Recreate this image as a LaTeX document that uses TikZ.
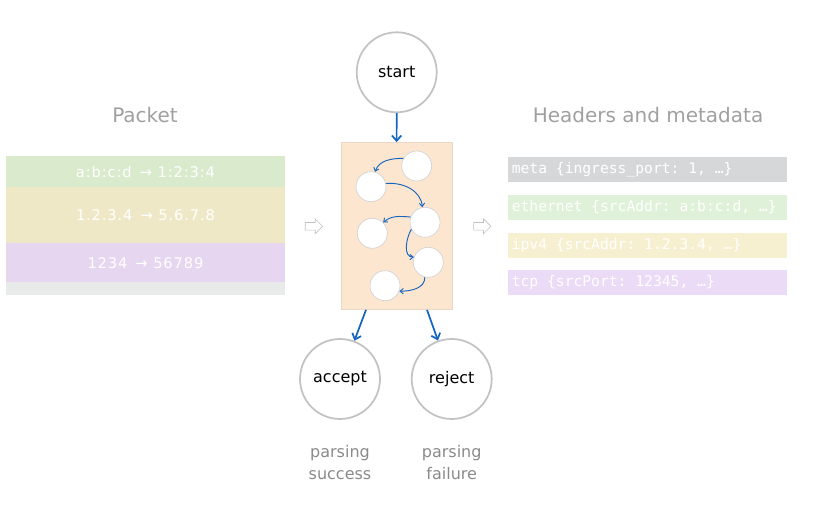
\documentclass[tikz,border=0pt]{standalone}
\usepackage{fontspec}
\setmainfont{DejaVu Sans}
\setsansfont{DejaVu Sans}
\setmonofont{DejaVu Sans Mono}
\newfontfamily\bandfont[LetterSpace=6]{DejaVu Sans}
\usetikzlibrary{positioning,shapes.arrows,arrows.meta}

\definecolor{stategray}{HTML}{C2C2C2}
\definecolor{subgray}{HTML}{D2D2D2}
\definecolor{titlegray}{HTML}{A0A0A0}
\definecolor{notegray}{HTML}{8A8A8A}
\definecolor{flowblue}{HTML}{1565C0}
\definecolor{boxfill}{HTML}{FDE6CF}
\definecolor{boxedge}{HTML}{EAD8C6}
\definecolor{pktgreen}{HTML}{D9EACD}
\definecolor{pktyellow}{HTML}{EFE8C6}
\definecolor{pktpurple}{HTML}{E6D6F0}
\definecolor{pktgray}{HTML}{E9EAEA}
\definecolor{hdrgray}{HTML}{D6D7D8}
\definecolor{hdrgreen}{HTML}{DFF1D8}
\definecolor{hdryellow}{HTML}{F6F0D0}
\definecolor{hdrpurple}{HTML}{EBDBF6}

\newcommand\codegap{\phantom{x}}

\tikzset{
  state/.style={draw=stategray, line width=1.3pt, circle, minimum size=60pt, inner sep=0pt, font=\fontsize{12}{14}\selectfont},
  sub/.style={draw=subgray, line width=0.5pt, fill=white, circle, minimum size=22.5pt, inner sep=0pt},
  band/.style={rectangle, minimum width=209.25pt, inner sep=0pt, outer sep=0pt, text=white, font=\bandfont\fontsize{11}{13}\selectfont},
  field/.style={rectangle, text width=204pt, inner xsep=2.6pt, inner ysep=0pt, outer sep=0pt, minimum height=18.75pt, align=left, text=white, font=\ttfamily\fontsize{11}{13}\selectfont},
  title/.style={text=titlegray, font=\fontsize{15}{18}\selectfont},
  note/.style={text=notegray, align=center, font=\fontsize{12}{16.5}\selectfont},
  flow/.style={draw=flowblue, line width=1.3pt, -{Straight Barb[length=4pt,width=7pt]}},
  hop/.style={draw=flowblue, line width=0.7pt, -{Straight Barb[length=2.5pt,width=4pt]}},
  hollow/.style={single arrow, draw=stategray, line width=0.5pt, minimum height=13pt, inner sep=2.6pt, single arrow head extend=2.7pt},
}

\begin{document}
\begin{tikzpicture}[x=0.75pt, y=0.75pt]
\useasboundingbox (0,0) rectangle (827,-509);

\node[title] (packet) at (145,-115) {Packet};
\node[band, fill=pktgreen, minimum height=23.25pt, anchor=north west] (eth) at (6,-156.5) {a:b:c:d \,→ 1:2:3:4};
\node[band, fill=pktyellow, minimum height=41.7pt, below=0pt of eth] (ip) {1.2.3.4 \,→ 5.6.7.8};
\node[band, fill=pktpurple, minimum height=29.55pt, below=0pt of ip] (tcp) {1234 \,→ 56789};
\node[band, fill=pktgray, minimum height=9.75pt, below=0pt of tcp] (payload) {};

\node[hollow] (inarrow)  at (312,-226.3) {};
\node[hollow] (outarrow) at (480.4,-226.3) {};

\node[state] (start) at (396.7,-72.3) {start};
\node[draw=boxedge, fill=boxfill, line width=0.5pt, minimum width=83.25pt, minimum height=125.25pt, inner sep=0pt] (parser) at (396.5,-226) {};

\node[sub] (s1) at (416.7,-166)   {};
\node[sub] (s2) at (371,-186.7)   {};
\node[sub] (s3) at (425,-222.3)   {};
\node[sub] (s4) at (372.3,-233.3) {};
\node[sub] (s5) at (428.3,-262.3) {};
\node[sub] (s6) at (385,-285.7)   {};

\draw[hop] (s1.150) to[out=180, in=70]  (s2.75);
\draw[hop] (s2.12)  to[out=5,   in=95]  (s3.100);
\draw[hop] (s3.160) to[out=175, in=40]  (s4.45);
\draw[hop] (s3.207) to[out=240, in=180] (s5.160);
\draw[hop] (s5.257) to[out=270, in=0]   (s6.339);

\node[state] (accept) at (340,-379)   {accept};
\node[state] (reject) at (451.7,-379) {reject};

\draw[flow] (start) -- (parser);
\draw[flow] (parser.-110.6) -- (accept);
\draw[flow] (parser.-70.2) -- (reject);

\node[note] (success) at (340,-463)   {parsing\\success};
\node[note] (failure) at (451.7,-463) {parsing\\failure};

\node[title] (headers) at (648,-115) {Headers and metadata};
\node[field, fill=hdrgray, anchor=north west] (meta) at (508.3,-157.3) {meta\codegap\{ingress\_port:\codegap1,\codegap…\}};
\node[field, fill=hdrgreen, below=9.5pt of meta]  (ethernet) {ethernet\codegap\{srcAddr:\codegap a:b:c:d,\codegap…\}};
\node[field, fill=hdryellow, below=9.5pt of ethernet] (ipv4) {ipv4\codegap\{srcAddr:\codegap1.2.3.4,\codegap…\}};
\node[field, fill=hdrpurple, below=9.5pt of ipv4] (tcphdr) {tcp\codegap\{srcPort:\codegap12345,\codegap…\}};

\end{tikzpicture}
\end{document}
